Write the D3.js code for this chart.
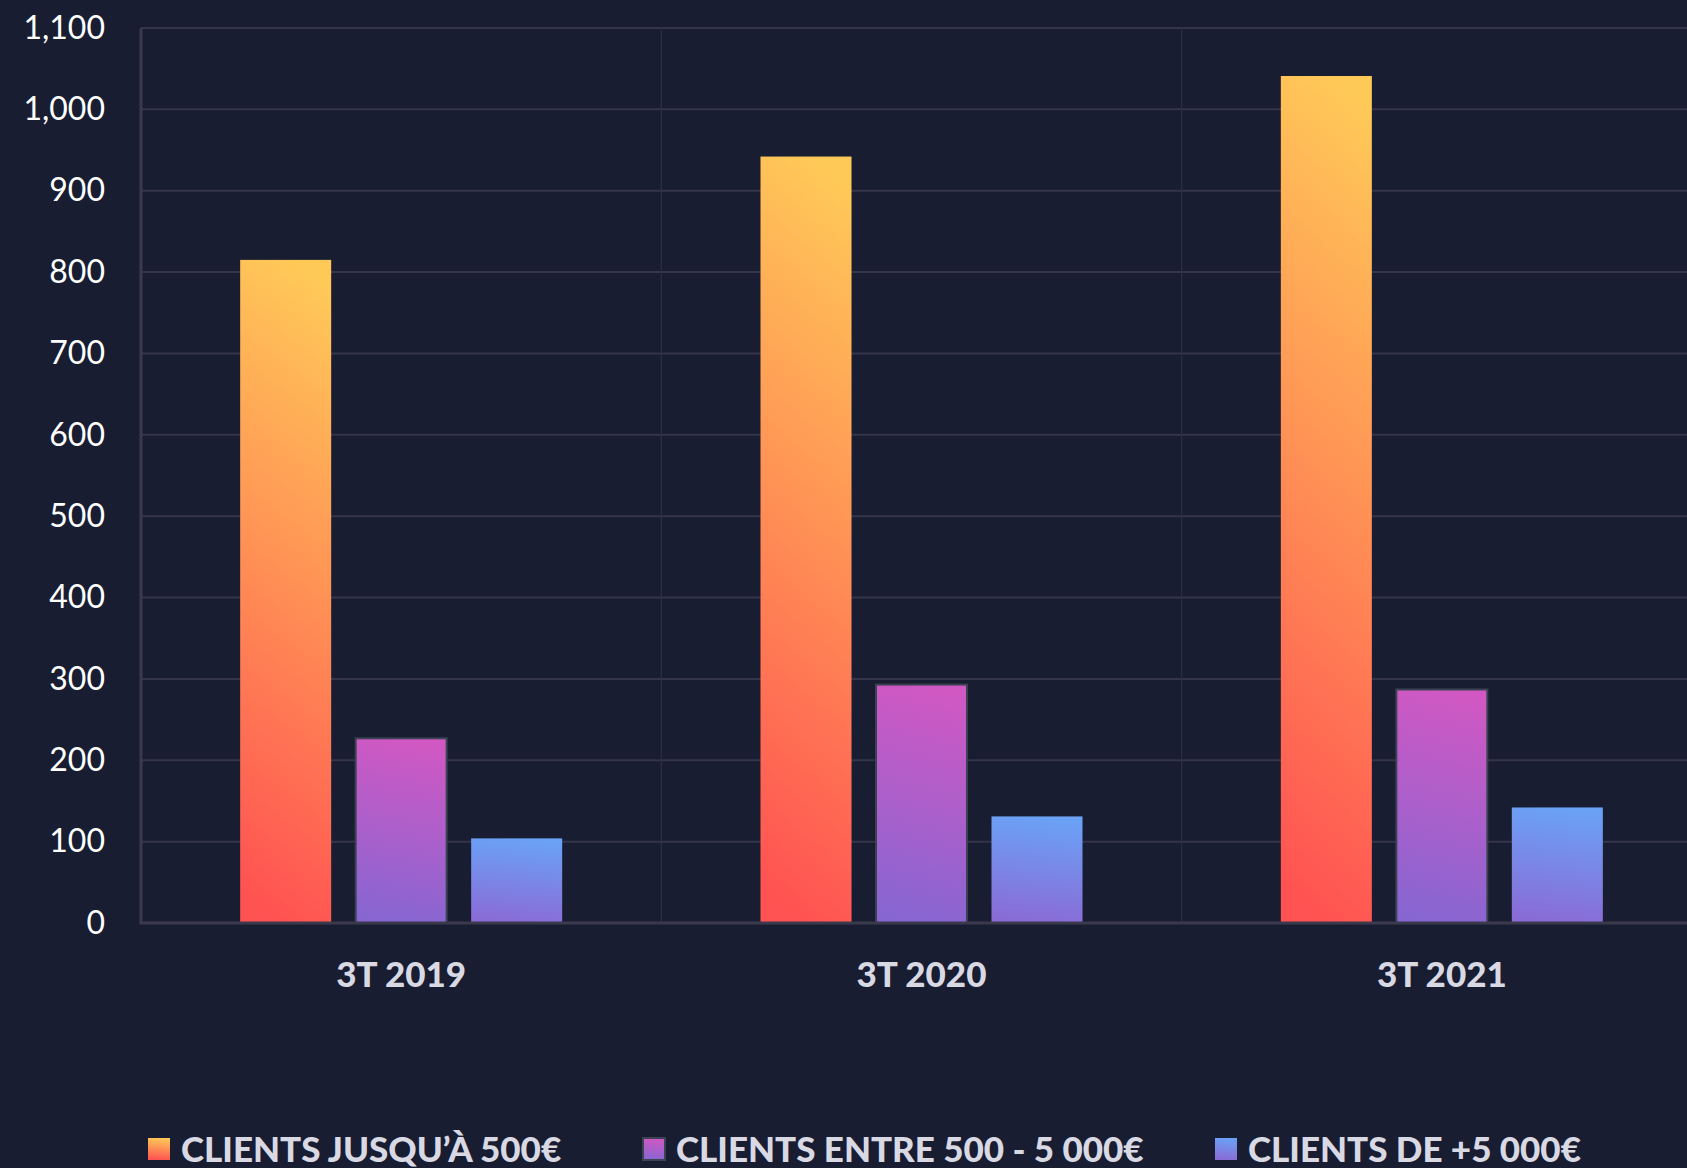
<!DOCTYPE html>
<html>
<head>
<meta charset="utf-8">
<script src="https://cdn.jsdelivr.net/npm/d3@7"></script>
<style>
  html, body { margin:0; padding:0; background:#181d31; overflow:hidden; }
  svg { display:block; }
  .tick text { font-family: Lato, "Noto Sans", sans-serif; }
</style>
</head>
<body>
<div id="chart"></div>
<script>
// data
var quarters = ["3T 2019", "3T 2020", "3T 2021"];
var seriesNames = ["CLIENTS JUSQU\u2019\u00C0 500\u20AC", "CLIENTS ENTRE 500 - 5 000\u20AC", "CLIENTS DE +5 000\u20AC"];
var upTo500 = [815, 942, 1041];
var from500to5000 = [227, 293, 287];
var over5000 = [104, 131, 142];
var yTicks = [0, 100, 200, 300, 400, 500, 600, 700, 800, 900, 1000, 1100];

var W = 1687, H = 1168;
var margin = {top:28, left:141, bottom:1168-923};
var plotW = 1561, plotH = H - margin.top - margin.bottom;
var groupW = 322;

var svg = d3.select("#chart").append("svg")
    .attr("width", W).attr("height", H);

var defs = svg.append("defs");
function grad(id, top, bottom){
    var g = defs.append("linearGradient").attr("id", id)
        .attr("x1", 0.55).attr("y1", 0).attr("x2", 0.45).attr("y2", 1);
    g.append("stop").attr("offset", "0%").attr("stop-color", top);
    g.append("stop").attr("offset", "100%").attr("stop-color", bottom);
}
grad("g0", "#ffc958", "#ff5252");
grad("g1", "#d158c3", "#8766d2");
grad("g2", "#6aa2f6", "#8a6bd6");

var series = [
    {name: seriesNames[0], values: upTo500, fill: "url(#g0)", stroke: "none"},
    {name: seriesNames[1], values: from500to5000, fill: "url(#g1)", stroke: "#3b4252"},
    {name: seriesNames[2], values: over5000, fill: "url(#g2)", stroke: "none"}
];

var g = svg.append("g").attr("transform", "translate(" + margin.left + "," + margin.top + ")");

var y = d3.scaleLinear().domain([0, 1100]).range([plotH, 0]);
var x0 = d3.scaleBand().domain(quarters).range([0, plotW]);
var x1 = d3.scaleBand().domain([0, 1, 2]).range([0, groupW]).paddingInner(0.212);

// horizontal grid
g.append("g").selectAll("line").data(yTicks).enter().append("line")
    .attr("x1", 0).attr("x2", plotW)
    .attr("y1", function(d){ return y(d); }).attr("y2", function(d){ return y(d); })
    .attr("stroke", "#34344a").attr("stroke-width", 2);

// vertical grid
g.append("g").selectAll("line").data(quarters).enter().append("line")
    .attr("x1", function(d){ return x0(d); }).attr("x2", function(d){ return x0(d); })
    .attr("y1", 0).attr("y2", plotH)
    .attr("stroke", "#2e3044").attr("stroke-width", 1.2);

// bars
var groups = g.append("g").selectAll("g").data(quarters).enter().append("g")
    .attr("transform", function(d){ return "translate(" + (x0(d) + x0.bandwidth()/2 - groupW/2) + ",0)"; });

groups.selectAll("rect").data(function(d, i){
        return series.map(function(s, k){ return {k:k, v:s.values[i], s:s}; });
    }).enter().append("rect")
    .attr("x", function(d){ return x1(d.k); })
    .attr("width", x1.bandwidth())
    .attr("y", function(d){ return y(d.v); })
    .attr("height", function(d){ return plotH - y(d.v); })
    .attr("fill", function(d){ return d.s.fill; })
    .attr("stroke", function(d){ return d.s.stroke; })
    .attr("stroke-width", 2);

// axes lines
g.append("line").attr("x1", 0).attr("x2", 0).attr("y1", 0).attr("y2", plotH)
    .attr("stroke", "#3a3a4c").attr("stroke-width", 3);
g.append("line").attr("x1", -1.5).attr("x2", plotW).attr("y1", plotH).attr("y2", plotH)
    .attr("stroke", "#3a3a4c").attr("stroke-width", 3);

// y axis labels
var yAxis = d3.axisLeft(y).tickValues(yTicks).tickSize(0).tickPadding(36)
    .tickFormat(d3.format(","));
g.append("g").call(yAxis)
    .call(function(a){ a.select(".domain").remove(); })
    .selectAll("text")
    .attr("fill", "#ffffff")
    .style("font-size", "32px");

// x axis labels
var xAxis = d3.axisBottom(x0).tickSize(0).tickPadding(39);
g.append("g").attr("transform", "translate(0," + plotH + ")").call(xAxis)
    .call(function(a){ a.select(".domain").remove(); })
    .selectAll("text")
    .attr("fill", "#d9d9e4")
    .style("font-size", "35px")
    .style("font-weight", "900");

// legend
var legendX = [148, 643, 1215];
var legend = svg.append("g").selectAll("g").data(series).enter().append("g")
    .attr("transform", function(d, i){ return "translate(" + legendX[i] + ",1138)"; });
legend.append("rect")
    .attr("width", 22).attr("height", 22)
    .attr("fill", function(d){ return d.fill; })
    .attr("stroke", function(d){ return d.stroke; })
    .attr("stroke-width", 2);
legend.append("text")
    .attr("x", 33).attr("y", 24)
    .attr("fill", "#d9d9e4")
    .style("font-family", "Lato, 'Open Sans', sans-serif")
    .style("font-weight", "900")
    .style("font-size", "35px")
    .text(function(d){ return d.name; });
</script>
</body>
</html>
